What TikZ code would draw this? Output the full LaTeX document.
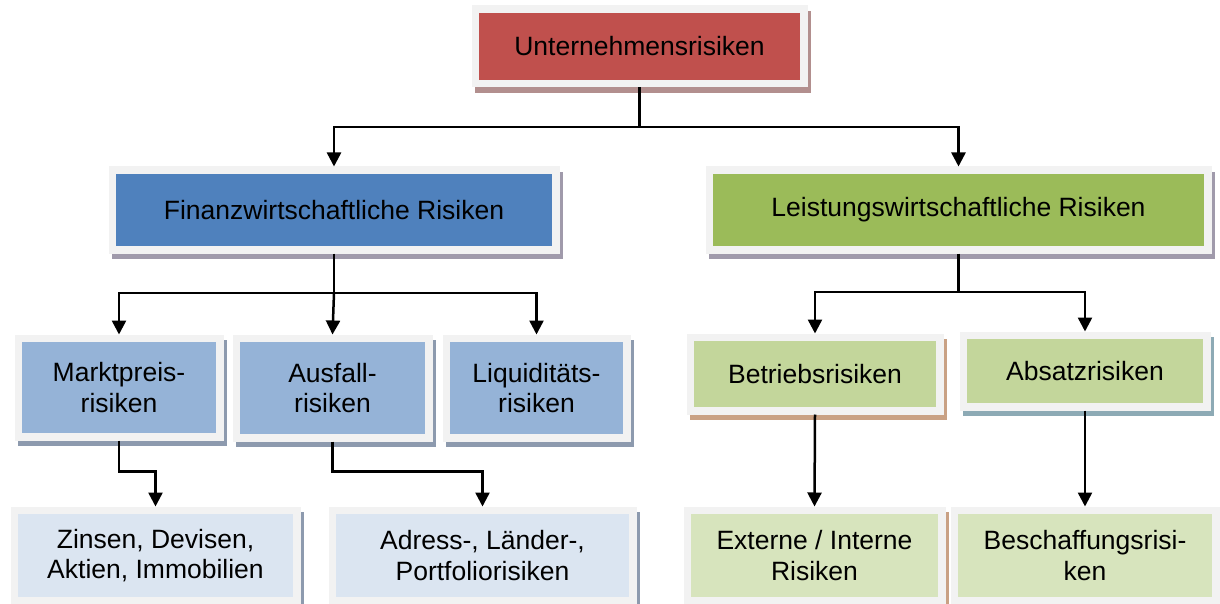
\documentclass[tikz,border=0pt]{standalone}
\usepackage{fontspec}
\setmainfont{Liberation Sans}
\usetikzlibrary{arrows.meta}

% fill colours of the boxes
\definecolor{cRed}{HTML}{C0504D}
\definecolor{cBlue}{HTML}{4F81BD}
\definecolor{cGreen}{HTML}{9BBB59}
\definecolor{cBlueMid}{HTML}{95B3D7}
\definecolor{cGreenMid}{HTML}{C3D69B}
\definecolor{cBlueLight}{HTML}{DBE5F1}
\definecolor{cGreenLight}{HTML}{D7E4BD}
% frame and shadow colours
\definecolor{cFrame}{HTML}{F2F2F2}
\definecolor{sRed}{HTML}{B28F8E}
\definecolor{sPurple}{HTML}{A09AAB}
\definecolor{sSlate}{HTML}{8D9AAE}
\definecolor{sTan}{HTML}{C9A184}
\definecolor{sTeal}{HTML}{8DAAB5}

\tikzset{
  x=1pt, y=-1pt,
  riskbox/.style n args={4}{
    rectangle, inner sep=0pt, outer sep=7.5pt,
    minimum width=#3pt, minimum height=#4pt,
    align=center, font=\fontsize{26.5}{30.5}\selectfont,
    fill=#1,
    preaction={fill=#2, draw=#2, line width=15pt,
               transform canvas={xshift=3.5pt, yshift=-5.5pt}},
    preaction={fill=cFrame, draw=cFrame, line width=15pt},
  },
  conn/.style={draw=black, line width=2.5pt},
  arr/.style={conn, -{Triangle[width=14pt,length=14pt]}},
}

\begin{document}
\begin{tikzpicture}
\useasboundingbox (0,0) rectangle (1220,604);

% level 1
\node[riskbox={cRed}{sRed}{321}{67}] (top) at (639.5,46.5) {Unternehmensrisiken};

% level 2
\node[riskbox={cBlue}{sPurple}{436}{72}] (fin) at (334,210) {Finanzwirtschaftliche Risiken};
\node[riskbox={cGreen}{sPurple}{491}{72}] (leis) at (958.5,210) {Leistungswirtschaftliche Risiken};

% level 3
\node[riskbox={cBlueMid}{sSlate}{194}{91}] (mkt) at (119,387.5) {Marktpreis-\\risiken};
\node[riskbox={cBlueMid}{sSlate}{185}{92}] (ausf) at (332.5,388) {Ausfall-\\risiken};
\node[riskbox={cBlueMid}{sSlate}{173}{92}] (liq) at (536.5,388) {Liquiditäts-\\risiken};
\node[riskbox={cGreenMid}{sTan}{242}{66}] (betr) at (815,374) {Betriebsrisiken};
\node[riskbox={cGreenMid}{sTeal}{236}{64}] (abs) at (1085,371) {Absatzrisiken};

% level 4
\node[riskbox={cBlueLight}{sSlate}{275}{83}] (zins) at (155.5,555.5) {Zinsen, Devisen,\\Aktien, Immobilien};
\node[riskbox={cBlueLight}{sSlate}{293}{83}] (adr) at (482.5,555.5) {Adress-, Länder-,\\Portfoliorisiken};
\node[riskbox={cGreenLight}{sTan}{247}{83}] (ext) at (814.5,555.5) {Externe / Interne\\Risiken};
\node[riskbox={cGreenLight}{sTeal}{254}{83}] (besch) at (1085,555.5) {Beschaffungsrisi-\\ken};

% branching points
\coordinate (j1) at (639.5,127);
\coordinate (j2) at (334,293);
\coordinate (j3) at (958.5,292);

% connectors
\draw[conn] (top.south) -- (j1);
\draw[arr] (j1) -| (fin.north);
\draw[arr] (j1) -| (leis.north);

\draw[conn] (fin.south) -- (j2);
\draw[arr] (j2) -| (mkt.north);
\draw[arr] (j2) -- (ausf.north);
\draw[arr] (j2) -| (liq.north);

\draw[conn] (leis.south) -- (j3);
\draw[arr] (j3) -| (betr.north);
\draw[arr] (j3) -| (abs.north);

\draw[arr] (mkt.south) -- ++(0,31) -| (zins.north);
\draw[arr] (ausf.south) -- ++(0,30) -| (adr.north);
\draw[arr] (betr.south) -- (ext.north);
\draw[arr] (abs.south) -- (besch.north);
\end{tikzpicture}
\end{document}
